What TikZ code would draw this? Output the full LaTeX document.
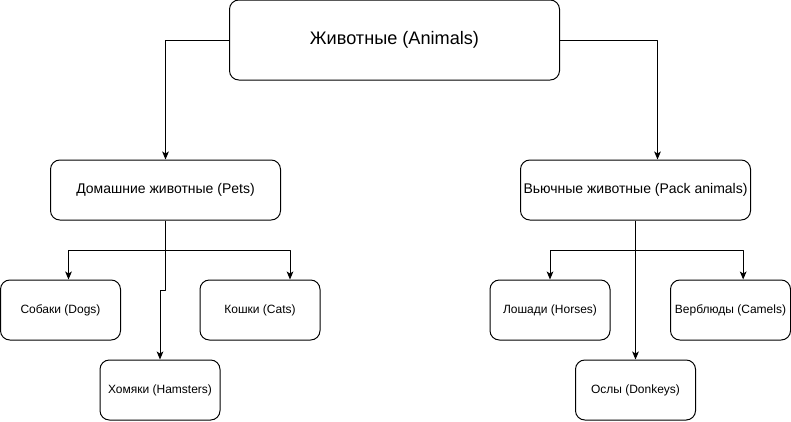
\documentclass[tikz,border=0pt]{standalone}
\usepackage{fontspec}
\setmainfont{Liberation Sans}
\usetikzlibrary{arrows.meta}
\begin{document}
\begin{tikzpicture}[x=0.75pt, y=-0.75pt, font=\fontsize{9}{11}\selectfont, line width=0.75pt, line join=round, >={Stealth[length=6pt,width=5pt,inset=1.5pt]}]
			\tikzset{box/.style={draw, rounded corners=7pt, minimum width=90pt, minimum height=45pt, inner sep=0pt}}
			\useasboundingbox (0,0) rectangle (791,421);
			\node[box, minimum width=247.5pt, minimum height=60pt, font=\fontsize{13.6}{16}\selectfont] (animals) at (394.5,40) {Животные (Animals)};
			\node[box, minimum width=172.5pt, font=\fontsize{10.5}{12}\selectfont] (pets) at (165.5,190) {Домашние животные (Pets)};
			\node[box, minimum width=172.5pt, font=\fontsize{10.5}{12}\selectfont] (pack) at (635.5,190) {Вьючные животные (Pack animals)};
			\node[box] (dogs) at (60.5,310) {Собаки (Dogs)};
			\node[box] (cats) at (260,310) {Кошки (Cats)};
			\node[box] (ham) at (160,390) {Хомяки (Hamsters)};
			\node[box] (horses) at (550,310) {Лошади (Horses)};
			\node[box] (camels) at (730.5,310) {Верблюды (Camels)};
			\node[box] (donkeys) at (635.5,390) {Ослы (Donkeys)};
			\coordinate (pj) at (165.5,250);
			\coordinate (kj) at (635.5,250);
			\draw[->] (animals.west) -| (pets.north);
			\draw[->] (animals.east) -| ([xshift=16.5pt]pack.north);
			\draw[->] (pets.south) -- (pj) -| ([xshift=6pt]dogs.north);
			\draw[->] (pj) -| ([xshift=22.5pt]cats.north);
			\draw[->] (pets.south) -- ++(0,70) -| (ham.north);
			\draw[->] (pack.south) -- (kj) -| (horses.north);
			\draw[->] (kj) -| ([xshift=9.5pt]camels.north);
			\draw[->] (pack.south) -- (donkeys.north);
		\end{tikzpicture}
\end{document}
